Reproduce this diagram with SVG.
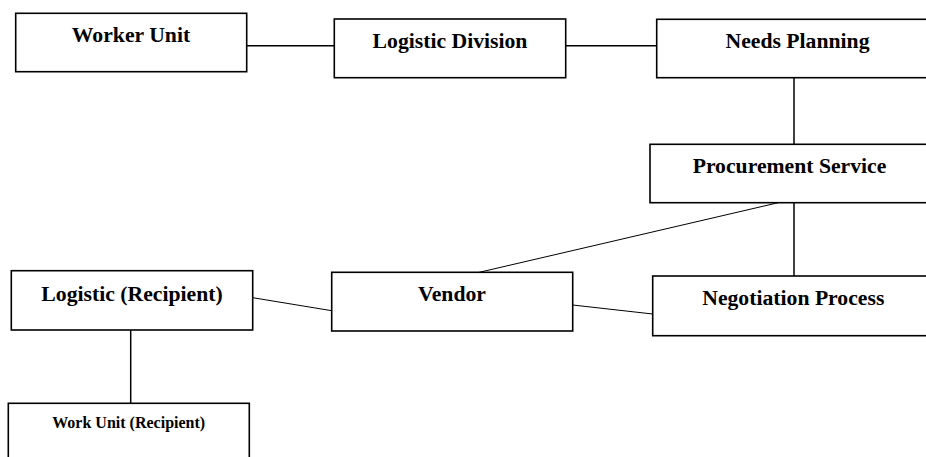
<svg xmlns="http://www.w3.org/2000/svg" width="926" height="457" viewBox="0 0 926 457">
<style>
.box{fill:#fff;stroke:#000;stroke-width:1.6}
.t{font-family:"Liberation Serif","Times New Roman",serif;font-weight:bold;font-size:21.7px;text-anchor:middle;fill:#000}
.s{font-size:16px}
.c{stroke:#000;stroke-width:1.5;fill:none}
.thin{stroke:#000;stroke-width:1;fill:none}
</style>
<rect width="926" height="457" fill="#fff"/>
<g id="connectors">
<line class="c" x1="247" y1="45.7" x2="334" y2="45.7"/>
<line class="c" x1="566" y1="45.7" x2="657" y2="45.7"/>
<line class="c" x1="794" y1="77.7" x2="794" y2="144.3"/>
<line class="c" x1="794" y1="202.7" x2="794" y2="276"/>
<line class="thin" x1="778.3" y1="202.7" x2="479.3" y2="272.3"/>
<line class="thin" x1="572.7" y1="305" x2="652.7" y2="314"/>
<line class="thin" x1="252.7" y1="297.7" x2="331.7" y2="310.7"/>
<line class="c" x1="130.7" y1="330" x2="130.7" y2="403.3"/>
</g>
<g id="worker-unit">
<rect class="box" x="15.7" y="13.3" width="231" height="58.4"/>
<text class="t" x="131" y="42">Worker Unit</text>
</g>
<g id="logistic-division">
<rect class="box" x="334.3" y="19" width="231.4" height="58.7"/>
<text class="t" x="450" y="48.3">Logistic Division</text>
</g>
<g id="needs-planning">
<rect class="box" x="656.7" y="19.3" width="280" height="58.4"/>
<text class="t" x="797.5" y="48.3">Needs Planning</text>
</g>
<g id="procurement-service">
<rect class="box" x="650" y="144.3" width="290" height="58.4"/>
<text class="t" x="789.5" y="173.3">Procurement Service</text>
</g>
<g id="negotiation-process">
<rect class="box" x="652.7" y="276" width="290" height="59.7"/>
<text class="t" x="793.3" y="305">Negotiation Process</text>
</g>
<g id="vendor">
<rect class="box" x="331.7" y="272.3" width="241" height="58.7"/>
<text class="t" x="452" y="300.7">Vendor</text>
</g>
<g id="logistic-recipient">
<rect class="box" x="11.3" y="270.7" width="241.4" height="59.3"/>
<text class="t" x="132" y="300.7">Logistic (Recipient)</text>
</g>
<g id="work-unit-recipient">
<rect class="box" x="8.3" y="403.3" width="241" height="70"/>
<text class="t s" x="128.7" y="428.3">Work Unit (Recipient)</text>
</g>
</svg>
